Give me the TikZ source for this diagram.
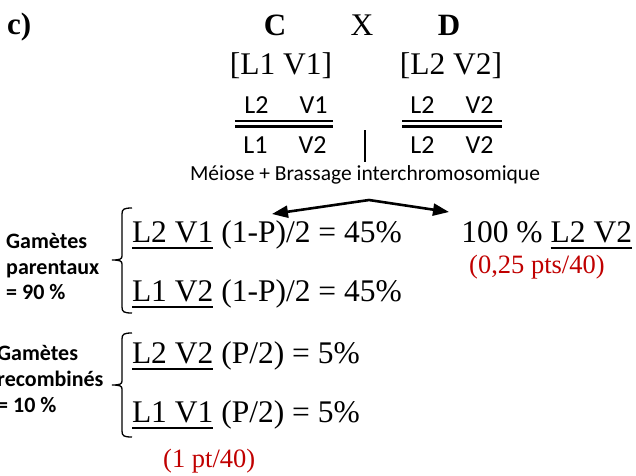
\documentclass[tikz,border=0pt]{standalone}
\usepackage{fontspec}
\setmainfont{Liberation Serif}
\newfontfamily\calfont{Carlito}
\usetikzlibrary{arrows.meta}
\definecolor{pred}{RGB}{192,0,0}
\begin{document}
\begin{tikzpicture}[x=1pt,y=-1pt,
  tm/.style={font=\fontsize{31.5}{36}\selectfont, inner sep=0pt, outer sep=0pt},
  tmb/.style={font=\bfseries\fontsize{31}{36}\selectfont, inner sep=0pt, outer sep=0pt},
  geno/.style={font=\calfont\fontsize{26}{30}\selectfont, inner sep=0pt, anchor=base},
  lab/.style={font=\calfont\bfseries\fontsize{22}{26}\selectfont, inner sep=0pt, anchor=base west},
  pts/.style={font=\fontsize{26.5}{30}\selectfont, text=pred, inner sep=0pt, anchor=base west},
  ul/.style={line width=1.4pt},
  chrom/.style={line width=2.8pt},
  brk/.style={line width=1.3pt},
  arr/.style={line width=2.6pt, line join=miter, {Triangle[length=16pt,width=12pt]}-{Triangle[length=16pt,width=12pt]}}
]
\useasboundingbox (0,0) rectangle (636,475);

% header
\node[tmb, anchor=base west] (lbl) at (7,34) {c)};
\node[tmb, anchor=base] (C) at (275,35) {C};
\node[tm, anchor=base] (X) at (362,35) {X};
\node[tmb, anchor=base] (D) at (449,35) {D};
\node[tm, anchor=base] (phC) at (281,74) {[L1 V1]};
\node[tm, anchor=base] (phD) at (451,74) {[L2 V2]};

% genotypes
\node[geno] (gC1) at (286,113) {L2\hspace{31pt}V1};
\node[geno] (gC2) at (285,153) {L1\hspace{31pt}V2};
\draw[chrom] (235,121) -- (333,121);
\draw[chrom] (235,126.5) -- (333,126.5);
\node[geno] (gD1) at (452,113) {L2\hspace{31pt}V2};
\node[geno] (gD2) at (452,153) {L2\hspace{31pt}V2};
\draw[chrom] (402,121) -- (502,121);
\draw[chrom] (402,126.5) -- (502,126.5);
\draw[line width=2pt] (365,130) -- (365,162);

\node[font=\calfont\fontsize{21.5}{24}\selectfont, anchor=base, inner sep=0pt] (meiose) at (365,180) {Méiose + Brassage interchromosomique};

% arrows
\coordinate (apex) at (369,200);
\coordinate (tipL) at (272,214);
\coordinate (tipR) at (449,212);
\draw[arr] (tipL) -- (apex) -- (tipR);

% gametes of C
\node[tm, anchor=base west] (g1) at (132,242) {L2 V1};
\node[tm, anchor=base west] (g1r) at ([xshift=8pt]g1.base east) {(1-P)/2 = 45\%};
\draw[ul] ([yshift=-6pt]g1.base west) -- ([yshift=-6pt]g1.base east);

\node[tm, anchor=base west] (g2) at (132,301) {L1 V2};
\node[tm, anchor=base west] (g2r) at ([xshift=8pt]g2.base east) {(1-P)/2 = 45\%};
\draw[ul] ([yshift=-6pt]g2.base west) -- ([yshift=-6pt]g2.base east);

\node[tm, anchor=base west] (g3) at (132,363) {L2 V2};
\node[tm, anchor=base west] (g3r) at ([xshift=8pt]g3.base east) {(P/2) = 5\%};
\draw[ul] ([yshift=-6pt]g3.base west) -- ([yshift=-6pt]g3.base east);

\node[tm, anchor=base west] (g4) at (132,422) {L1 V1};
\node[tm, anchor=base west] (g4r) at ([xshift=8pt]g4.base east) {(P/2) = 5\%};
\draw[ul] ([yshift=-6pt]g4.base west) -- ([yshift=-6pt]g4.base east);

% gametes of D
\node[tm, anchor=base east] (g5) at (632,242) {L2 V2};
\node[tm, anchor=base east] (cent) at ([xshift=-8pt]g5.base west) {100 \%};
\draw[ul] ([yshift=-6pt]g5.base west) -- ([yshift=-6pt]g5.base east);

% points
\node[pts] (p1) at (469,273) {(0,25 pts/40)};
\node[pts] (p2) at (163,467) {(1 pt/40)};

% labels
\node[lab] (gp1) at (6,248) {Gamètes};
\node[lab] (gp2) at (6,274) {parentaux};
\node[lab] (gp3) at (6,299) {= 90 \%};
\node[lab] (gr1) at (-3,360) {Gamètes};
\node[lab] (gr2) at (-3,386) {recombinés};
\node[lab] (gr3) at (-3,412) {= 10 \%};

% brackets
\draw[brk] (132,208) .. controls (124,208) and (122,209) .. (122,214) -- (122,256)
  .. controls (122,259) and (120,260) .. (112,260)
  .. controls (120,260) and (122,261) .. (122,264) -- (122,307)
  .. controls (122,312) and (124,313) .. (132,313);
\draw[brk] (132,333) .. controls (124,333) and (122,334) .. (122,339) -- (122,381)
  .. controls (122,384) and (120,385) .. (112,385)
  .. controls (120,385) and (122,386) .. (122,389) -- (122,431)
  .. controls (122,436) and (124,437) .. (132,437);
\end{tikzpicture}
\end{document}
